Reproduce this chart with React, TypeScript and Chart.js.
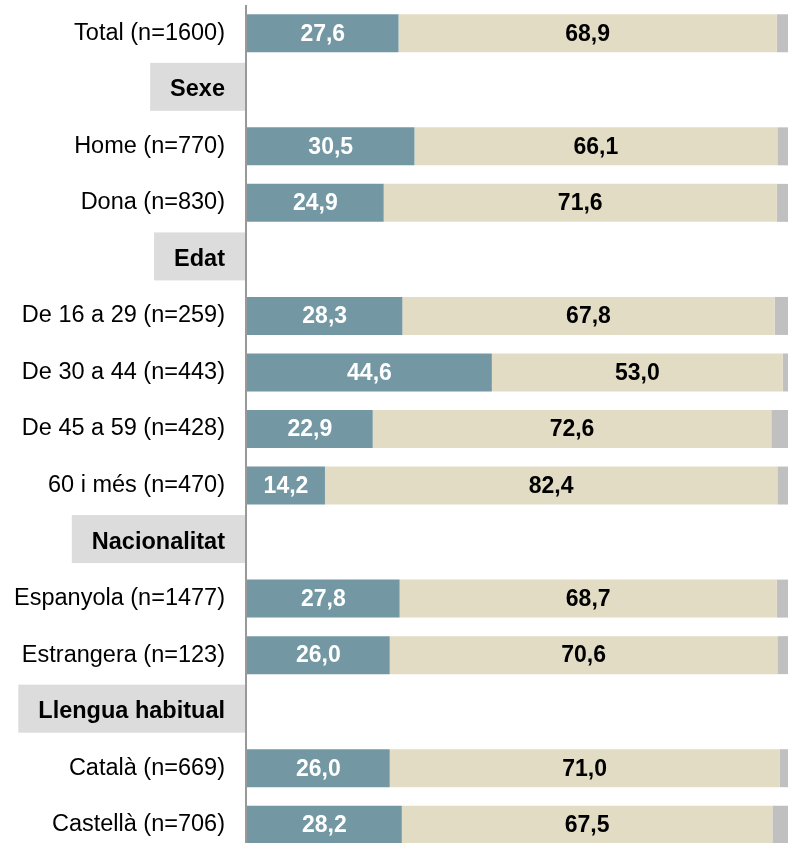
import React, { useEffect, useRef } from "react";
import { Chart, registerables } from "chart.js";

Chart.register(...registerables);

const categories = [
  "Total (n=1600)",
  "Sexe",
  "Home (n=770)",
  "Dona (n=830)",
  "Edat",
  "De 16 a 29 (n=259)",
  "De 30 a 44 (n=443)",
  "De 45 a 59 (n=428)",
  "60 i més (n=470)",
  "Nacionalitat",
  "Espanyola (n=1477)",
  "Estrangera (n=123)",
  "Llengua habitual",
  "Català (n=669)",
  "Castellà (n=706)",
];

const headerRows = [1, 4, 9, 12];

const seriesA = [27.6, null, 30.5, 24.9, null, 28.3, 44.6, 22.9, 14.2, null, 27.8, 26.0, null, 26.0, 28.2];
const seriesB = [68.9, null, 66.1, 71.6, null, 67.8, 53.0, 72.6, 82.4, null, 68.7, 70.6, null, 71.0, 67.5];
const seriesC = [3.5, null, 3.4, 3.5, null, 3.9, 2.4, 4.5, 3.4, null, 3.5, 3.4, null, 3.0, 4.3];

const FONT = "'Liberation Sans', Arial, Helvetica, sans-serif";
const COLOR_A = "#7498a3";
const COLOR_B = "#e2dcc5";
const COLOR_C = "#c0c0c0";
const HEADER_BG = "#dcdcdc";
const LABEL_SIZE = 23.5;
const VALUE_SIZE = 23;

const fmt = (v: number) => v.toFixed(1).replace(".", ",");

const decorPlugin = {
  id: "decor",
  beforeDraw(chart: any) {
    const ctx = chart.ctx;
    const yScale = chart.scales.y;
    const left = chart.chartArea.left;
    ctx.save();
    ctx.font = `bold ${LABEL_SIZE}px ${FONT}`;
    headerRows.forEach((i) => {
      const y = yScale.getPixelForValue(i);
      const w = ctx.measureText(categories[i]).width;
      const textRight = left - 22;
      const boxLeft = textRight - w - 20;
      ctx.fillStyle = HEADER_BG;
      ctx.fillRect(boxLeft, y - 27, left - 1 - boxLeft, 48);
    });
    ctx.restore();
  },
  beforeDatasetsDraw(chart: any) {
    const ctx = chart.ctx;
    const { left, top, bottom } = chart.chartArea;
    ctx.save();
    ctx.strokeStyle = "#999999";
    ctx.lineWidth = 2;
    ctx.beginPath();
    ctx.moveTo(left - 1, top);
    ctx.lineTo(left - 1, bottom);
    ctx.stroke();
    ctx.restore();
  },
  afterDatasetsDraw(chart: any) {
    const ctx = chart.ctx;
    ctx.save();
    ctx.font = `bold ${VALUE_SIZE}px ${FONT}`;
    ctx.textAlign = "center";
    ctx.textBaseline = "middle";
    [0, 1].forEach((di) => {
      const meta = chart.getDatasetMeta(di);
      const data = chart.data.datasets[di].data;
      meta.data.forEach((bar: any, idx: number) => {
        const v = data[idx];
        if (v === null || v === undefined) return;
        const cx = (bar.x + bar.base) / 2;
        ctx.fillStyle = di === 0 ? "#ffffff" : "#000000";
        ctx.fillText(fmt(v), cx, bar.y + 1);
      });
    });
    ctx.restore();
  },
};

export default function App() {
  const ref = useRef<HTMLCanvasElement | null>(null);

  useEffect(() => {
    if (!ref.current) return;
    const chart = new Chart(ref.current, {
      type: "bar",
      data: {
        labels: categories,
        datasets: [
          { label: "A", data: seriesA, backgroundColor: COLOR_A, barPercentage: 0.672, categoryPercentage: 1 },
          { label: "B", data: seriesB, backgroundColor: COLOR_B, barPercentage: 0.672, categoryPercentage: 1 },
          { label: "C", data: seriesC, backgroundColor: COLOR_C, barPercentage: 0.672, categoryPercentage: 1 },
        ],
      },
      options: {
        indexAxis: "y",
        responsive: false,
        animation: false,
        events: [],
        layout: { padding: { top: 5, right: 0, bottom: 0, left: 0 } },
        plugins: {
          legend: { display: false },
          tooltip: { enabled: false },
        },
        scales: {
          x: {
            stacked: true,
            display: false,
            min: 0,
            max: 100,
          },
          y: {
            stacked: true,
            afterFit: (scale: any) => {
              scale.width = 247;
              scale.paddingTop = 0;
              scale.paddingBottom = 0;
            },
            grid: { display: false, drawTicks: false },
            border: { display: false },
            ticks: {
              autoSkip: false,
              padding: 22,
              color: "#000000",
              font: (ctx: any) => ({
                family: FONT,
                size: LABEL_SIZE,
                weight: headerRows.includes(ctx.index) ? "bold" : "normal",
              }),
            },
          },
        },
      },
      plugins: [decorPlugin],
    });
    return () => chart.destroy();
  }, []);

  return (
    <div style={{ position: "fixed", left: 0, top: 0, width: 796, height: 853, background: "#ffffff" }}>
      <canvas ref={ref} width={796} height={853} style={{ display: "block", width: 796, height: 853 }} />
    </div>
  );
}
